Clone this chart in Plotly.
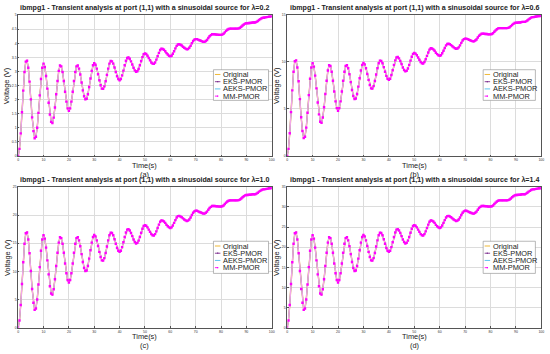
import plotly.graph_objects as go

W, H = 550, 354

# sample times (0.5 s grid)
time_s = [i * 0.5 for i in range(201)]

# lambda = 0.2
volt_a = [
    0, 0.25, 0.80, 1.55, 2.32, 2.98, 3.35,
    3.38, 3.13, 2.64, 2.01, 1.37, 0.88, 0.63,
    0.68, 1.00, 1.53, 2.15, 2.73, 3.13,
    3.28, 3.16, 2.84, 2.39, 1.89, 1.47, 1.21,
    1.17, 1.36, 1.72, 2.19, 2.66, 3.02, 3.21,
    3.18, 2.98, 2.66, 2.28, 1.93, 1.69,
    1.60, 1.69, 1.93, 2.28, 2.66, 2.98, 3.18,
    3.21, 3.10, 2.89, 2.61, 2.33, 2.12, 2.01,
    2.03, 2.19, 2.45, 2.75, 3.02, 3.22,
    3.29, 3.24, 3.10, 2.90, 2.69, 2.51, 2.39,
    2.38, 2.47, 2.65, 2.88, 3.10, 3.28, 3.37,
    3.36, 3.28, 3.14, 2.98, 2.83, 2.73,
    2.69, 2.73, 2.86, 3.03, 3.22, 3.38, 3.48,
    3.50, 3.45, 3.36, 3.25, 3.13, 3.04, 2.99,
    3.01, 3.09, 3.22, 3.37, 3.51, 3.61,
    3.64, 3.62, 3.56, 3.48, 3.40, 3.32, 3.28,
    3.27, 3.32, 3.42, 3.54, 3.66, 3.76, 3.81,
    3.80, 3.77, 3.72, 3.65, 3.60, 3.56,
    3.54, 3.56, 3.63, 3.72, 3.82, 3.91, 3.96,
    3.97, 3.95, 3.92, 3.88, 3.84, 3.81, 3.79,
    3.80, 3.84, 3.91, 4.00, 4.08, 4.13,
    4.15, 4.15, 4.13, 4.11, 4.09, 4.07, 4.05,
    4.05, 4.08, 4.12, 4.19, 4.25, 4.29, 4.32,
    4.32, 4.32, 4.31, 4.31, 4.30, 4.30,
    4.30, 4.31, 4.34, 4.39, 4.44, 4.48, 4.51,
    4.52, 4.52, 4.52, 4.52, 4.52, 4.52, 4.52,
    4.53, 4.55, 4.59, 4.63, 4.67, 4.70,
    4.71, 4.71, 4.72, 4.72, 4.73, 4.74, 4.74,
    4.74, 4.76, 4.79, 4.83, 4.86, 4.89, 4.91,
    4.91, 4.92, 4.93, 4.94, 4.95, 4.95,
    4.96,
]

# lambda = 0.6
volt_b = [
    0, 0.75, 2.40, 4.65, 6.96, 8.94, 10.05,
    10.14, 9.39, 7.92, 6.03, 4.11, 2.64, 1.89,
    2.04, 3.00, 4.59, 6.45, 8.19, 9.39,
    9.84, 9.48, 8.52, 7.17, 5.67, 4.41, 3.63,
    3.51, 4.08, 5.16, 6.57, 7.98, 9.06, 9.63,
    9.54, 8.94, 7.98, 6.84, 5.79, 5.07,
    4.80, 5.07, 5.79, 6.84, 7.98, 8.94, 9.54,
    9.63, 9.30, 8.67, 7.83, 6.99, 6.36, 6.03,
    6.09, 6.57, 7.35, 8.25, 9.06, 9.66,
    9.87, 9.72, 9.30, 8.70, 8.07, 7.53, 7.17,
    7.14, 7.41, 7.95, 8.64, 9.30, 9.84, 10.11,
    10.08, 9.84, 9.42, 8.94, 8.49, 8.19,
    8.07, 8.19, 8.58, 9.09, 9.66, 10.14, 10.44,
    10.50, 10.35, 10.08, 9.75, 9.39, 9.12, 8.97,
    9.03, 9.27, 9.66, 10.11, 10.53, 10.83,
    10.92, 10.86, 10.68, 10.44, 10.20, 9.96, 9.84,
    9.81, 9.96, 10.26, 10.62, 10.98, 11.28, 11.43,
    11.40, 11.31, 11.16, 10.95, 10.80, 10.68,
    10.62, 10.68, 10.89, 11.16, 11.46, 11.73, 11.88,
    11.91, 11.85, 11.76, 11.64, 11.52, 11.43, 11.37,
    11.40, 11.52, 11.73, 12.00, 12.24, 12.39,
    12.45, 12.45, 12.39, 12.33, 12.27, 12.21, 12.15,
    12.15, 12.24, 12.36, 12.57, 12.75, 12.87, 12.96,
    12.96, 12.96, 12.93, 12.93, 12.90, 12.90,
    12.90, 12.93, 13.02, 13.17, 13.32, 13.44, 13.53,
    13.56, 13.56, 13.56, 13.56, 13.56, 13.56, 13.56,
    13.59, 13.65, 13.77, 13.89, 14.01, 14.10,
    14.13, 14.13, 14.16, 14.16, 14.19, 14.22, 14.22,
    14.22, 14.28, 14.37, 14.49, 14.58, 14.67, 14.73,
    14.73, 14.76, 14.79, 14.82, 14.85, 14.85,
    14.88,
]

# lambda = 1.0
volt_c = [
    0, 1.25, 4.00, 7.75, 11.60, 14.90, 16.75,
    16.90, 15.65, 13.20, 10.05, 6.85, 4.40, 3.15,
    3.40, 5.00, 7.65, 10.75, 13.65, 15.65,
    16.40, 15.80, 14.20, 11.95, 9.45, 7.35, 6.05,
    5.85, 6.80, 8.60, 10.95, 13.30, 15.10, 16.05,
    15.90, 14.90, 13.30, 11.40, 9.65, 8.45,
    8.00, 8.45, 9.65, 11.40, 13.30, 14.90, 15.90,
    16.05, 15.50, 14.45, 13.05, 11.65, 10.60, 10.05,
    10.15, 10.95, 12.25, 13.75, 15.10, 16.10,
    16.45, 16.20, 15.50, 14.50, 13.45, 12.55, 11.95,
    11.90, 12.35, 13.25, 14.40, 15.50, 16.40, 16.85,
    16.80, 16.40, 15.70, 14.90, 14.15, 13.65,
    13.45, 13.65, 14.30, 15.15, 16.10, 16.90, 17.40,
    17.50, 17.25, 16.80, 16.25, 15.65, 15.20, 14.95,
    15.05, 15.45, 16.10, 16.85, 17.55, 18.05,
    18.20, 18.10, 17.80, 17.40, 17.00, 16.60, 16.40,
    16.35, 16.60, 17.10, 17.70, 18.30, 18.80, 19.05,
    19.00, 18.85, 18.60, 18.25, 18.00, 17.80,
    17.70, 17.80, 18.15, 18.60, 19.10, 19.55, 19.80,
    19.85, 19.75, 19.60, 19.40, 19.20, 19.05, 18.95,
    19.00, 19.20, 19.55, 20.00, 20.40, 20.65,
    20.75, 20.75, 20.65, 20.55, 20.45, 20.35, 20.25,
    20.25, 20.40, 20.60, 20.95, 21.25, 21.45, 21.60,
    21.60, 21.60, 21.55, 21.55, 21.50, 21.50,
    21.50, 21.55, 21.70, 21.95, 22.20, 22.40, 22.55,
    22.60, 22.60, 22.60, 22.60, 22.60, 22.60, 22.60,
    22.65, 22.75, 22.95, 23.15, 23.35, 23.50,
    23.55, 23.55, 23.60, 23.60, 23.65, 23.70, 23.70,
    23.70, 23.80, 23.95, 24.15, 24.30, 24.45, 24.55,
    24.55, 24.60, 24.65, 24.70, 24.75, 24.75,
    24.80,
]

# lambda = 1.4
volt_d = [
    0, 1.75, 5.60, 10.85, 16.24, 20.86, 23.45,
    23.66, 21.91, 18.48, 14.07, 9.59, 6.16, 4.41,
    4.76, 7.00, 10.71, 15.05, 19.11, 21.91,
    22.96, 22.12, 19.88, 16.73, 13.23, 10.29, 8.47,
    8.19, 9.52, 12.04, 15.33, 18.62, 21.14, 22.47,
    22.26, 20.86, 18.62, 15.96, 13.51, 11.83,
    11.20, 11.83, 13.51, 15.96, 18.62, 20.86, 22.26,
    22.47, 21.70, 20.23, 18.27, 16.31, 14.84, 14.07,
    14.21, 15.33, 17.15, 19.25, 21.14, 22.54,
    23.03, 22.68, 21.70, 20.30, 18.83, 17.57, 16.73,
    16.66, 17.29, 18.55, 20.16, 21.70, 22.96, 23.59,
    23.52, 22.96, 21.98, 20.86, 19.81, 19.11,
    18.83, 19.11, 20.02, 21.21, 22.54, 23.66, 24.36,
    24.50, 24.15, 23.52, 22.75, 21.91, 21.28, 20.93,
    21.07, 21.63, 22.54, 23.59, 24.57, 25.27,
    25.48, 25.34, 24.92, 24.36, 23.80, 23.24, 22.96,
    22.89, 23.24, 23.94, 24.78, 25.62, 26.32, 26.67,
    26.60, 26.39, 26.04, 25.55, 25.20, 24.92,
    24.78, 24.92, 25.41, 26.04, 26.74, 27.37, 27.72,
    27.79, 27.65, 27.44, 27.16, 26.88, 26.67, 26.53,
    26.60, 26.88, 27.37, 28.00, 28.56, 28.91,
    29.05, 29.05, 28.91, 28.77, 28.63, 28.49, 28.35,
    28.35, 28.56, 28.84, 29.33, 29.75, 30.03, 30.24,
    30.24, 30.24, 30.17, 30.17, 30.10, 30.10,
    30.10, 30.17, 30.38, 30.73, 31.08, 31.36, 31.57,
    31.64, 31.64, 31.64, 31.64, 31.64, 31.64, 31.64,
    31.71, 31.85, 32.13, 32.41, 32.69, 32.90,
    32.97, 32.97, 33.04, 33.04, 33.11, 33.18, 33.18,
    33.18, 33.32, 33.53, 33.81, 34.02, 34.23, 34.37,
    34.37, 34.44, 34.51, 34.58, 34.65, 34.65,
    34.72,
]

lambdas = ["0.2", "0.6", "1.0", "1.4"]
panel_tags = ["(a)", "(b)", "(c)", "(d)"]
y_max = [5, 15, 25, 35]
y_dtick = [0.5, 5, 5, 5]
x_ticks = [0, 10, 20, 30, 40, 50, 60, 70, 80, 90, 100]
series_names = ["Original", "EKS-PMOR", "AEKS-PMOR", "MM-PMOR"]
series_colors = ["#EDB120", "#7E2F8E", "#4DBEEE", "#FF00FF"]
all_volts = [volt_a, volt_b, volt_c, volt_d]

# panel plot areas in pixels: (left, right, top, bottom)
areas = [
    (17.3, 272.7, 13.3, 155.7),
    (288.3, 544.3, 12.7, 155.7),
    (17.3, 272.7, 187.0, 329.3),
    (288.3, 544.3, 187.0, 329.3),
]
legend_boxes = [
    (214.0, 269.5, 68.5, 99.5),
    (485.7, 538.3, 68.5, 99.5),
    (214.0, 269.5, 242.0, 274.5),
    (485.7, 538.3, 242.0, 274.5),
]

FONT = "Liberation Sans, Arial, sans-serif"


def px(x):
    return x / W


def py(y):
    return 1 - y / H


fig = go.Figure()
layout = dict(
    width=W, height=H,
    margin=dict(l=0, r=0, t=0, b=0),
    paper_bgcolor="white", plot_bgcolor="white",
    showlegend=False,
    font=dict(family=FONT, color="#222"),
)
shapes = []
annotations = []

for i in range(4):
    sfx = "" if i == 0 else str(i + 1)
    xa, ya = "x" + sfx, "y" + sfx
    l, r, t, b = areas[i]
    layout["xaxis" + sfx] = dict(
        domain=[px(l), px(r)], range=[0, 100], anchor=ya,
        tickmode="array", tickvals=x_ticks,
        showgrid=True, gridcolor="#dcdcdc", gridwidth=0.8,
        showline=True, linecolor="#555", linewidth=0.6, mirror=True,
        ticks="inside", ticklen=1.5, tickcolor="#555",
        tickfont=dict(size=3.5, color="#333"), zeroline=False,
    )
    layout["yaxis" + sfx] = dict(
        domain=[py(b), py(t)], range=[0, y_max[i]], anchor=xa,
        dtick=y_dtick[i], tick0=0,
        showgrid=True, gridcolor="#dcdcdc", gridwidth=0.8,
        showline=True, linecolor="#555", linewidth=0.6, mirror=True,
        ticks="inside", ticklen=1.5, tickcolor="#555",
        tickfont=dict(size=3.5, color="#333"), zeroline=False,
    )
    v = all_volts[i]
    fig.add_trace(go.Scatter(x=time_s, y=v, xaxis=xa, yaxis=ya, mode="lines",
                             name=series_names[0],
                             line=dict(color=series_colors[0], width=1.4)))
    fig.add_trace(go.Scatter(x=time_s, y=v, xaxis=xa, yaxis=ya, mode="lines",
                             name=series_names[1],
                             line=dict(color=series_colors[1], width=0.6)))
    fig.add_trace(go.Scatter(x=time_s, y=v, xaxis=xa, yaxis=ya, mode="lines",
                             name=series_names[2],
                             line=dict(color=series_colors[2], width=0.6)))
    fig.add_trace(go.Scatter(x=time_s, y=v, xaxis=xa, yaxis=ya, mode="lines+markers",
                             name=series_names[3],
                             line=dict(color="#F2A6E8", width=1.3),
                             marker=dict(color=series_colors[3], size=2.4, symbol="square")))

    cx = (l + r) / 2
    annotations.append(dict(
        x=px(cx), y=py(t - 7), xref="paper", yref="paper", showarrow=False,
        text="<b>ibmpg1 - Transient analysis at port (1,1) with a sinusoidal source for λ=" + lambdas[i] + "</b>",
        font=dict(size=7.1, color="#222"), xanchor="center", yanchor="middle"))
    annotations.append(dict(
        x=px(cx), y=py(b + 9.2), xref="paper", yref="paper", showarrow=False,
        text="Time(s)", font=dict(size=7.4, color="#222"), xanchor="center", yanchor="middle",
        borderpad=0))
    annotations.append(dict(
        x=px(cx), y=py(b + 18.5), xref="paper", yref="paper", showarrow=False,
        text=panel_tags[i], font=dict(size=7.4, color="#222"), xanchor="center", yanchor="middle",
        borderpad=0))
    annotations.append(dict(
        x=px(l - 11.5), y=py((t + b) / 2), xref="paper", yref="paper", showarrow=False,
        text="Voltage (V)", textangle=-90, font=dict(size=7.4, color="#222"),
        xanchor="center", yanchor="middle"))

    # legend box
    bl, br, bt, bb = legend_boxes[i]
    shapes.append(dict(type="rect", xref="paper", yref="paper",
                       x0=px(bl), x1=px(br), y0=py(bb), y1=py(bt),
                       fillcolor="white", line=dict(color="#888", width=0.6), layer="above"))
    for j in range(4):
        ry = bt + 4.8 + j * 7.3
        col = series_colors[j]
        shapes.append(dict(type="line", xref="paper", yref="paper",
                           x0=px(bl + 1.5), x1=px(bl + 7), y0=py(ry), y1=py(ry),
                           line=dict(color=col, width=0.9, dash="dot" if j == 3 else "solid"),
                           layer="above"))
        if j in (1, 3):
            shapes.append(dict(type="rect", xref="paper", yref="paper",
                               x0=px(bl + 3.6), x1=px(bl + 4.9), y0=py(ry + 0.65), y1=py(ry - 0.65),
                               fillcolor=col, line=dict(width=0), layer="above"))
        annotations.append(dict(
            x=px(bl + 7.6), y=py(ry), xref="paper", yref="paper", showarrow=False,
            text=series_names[j], font=dict(size=7.4, color="#222"),
            xanchor="left", yanchor="middle"))

layout["shapes"] = shapes
layout["annotations"] = annotations
fig.update_layout(**layout)
fig.write_html("out.html", config={"displayModeBar": False},
               post_script="document.body.style.margin='0px';")
